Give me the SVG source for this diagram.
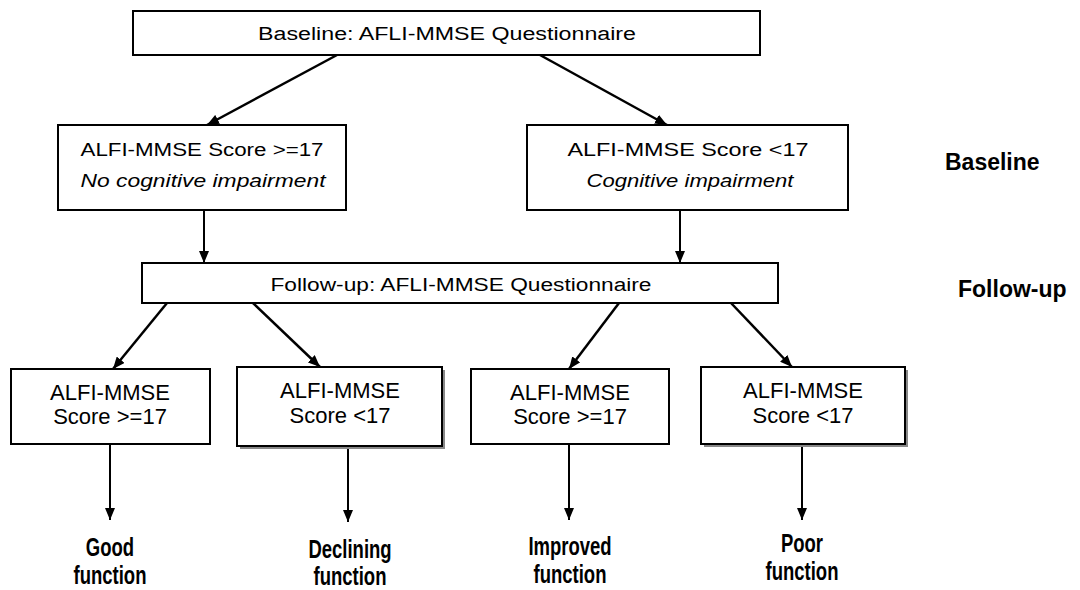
<svg xmlns="http://www.w3.org/2000/svg" width="1080" height="590" viewBox="0 0 1080 590">
<defs>
<style>
.box{fill:#fff;stroke:#000;stroke-width:2}
.shadow{fill:#888;stroke:none}
.t{font-family:"Liberation Sans",Arial,sans-serif;font-size:18px;fill:#000;text-anchor:middle}
.tb{font-family:"Liberation Sans",Arial,sans-serif;font-size:22px;fill:#000;text-anchor:middle}
.it{font-style:italic}
.side{font-family:"Liberation Sans",Arial,sans-serif;font-size:23px;font-weight:bold;fill:#000}
.lab{font-family:"Liberation Sans",Arial,sans-serif;font-size:25px;font-weight:bold;fill:#000;text-anchor:middle}
.c{stroke:#000;stroke-width:2.5;fill:none}
.cv{stroke:#000;stroke-width:2;fill:none}
</style>
<marker id="ah" viewBox="0 0 12 10" refX="12" refY="5" markerWidth="12" markerHeight="10" markerUnits="userSpaceOnUse" orient="auto">
<path d="M0,0 L12,5 L0,10 Z" fill="#000"/>
</marker>
</defs>
<rect width="1080" height="590" fill="#fff"/>

<g id="connectors">
<line class="c" x1="337" y1="55" x2="207" y2="125" marker-end="url(#ah)"/>
<line class="c" x1="540" y1="55" x2="667" y2="125" marker-end="url(#ah)"/>
<line class="cv" x1="204" y1="210" x2="204" y2="263" marker-end="url(#ah)"/>
<line class="cv" x1="680" y1="210" x2="680" y2="263" marker-end="url(#ah)"/>
<line class="c" x1="167" y1="303" x2="113" y2="369" marker-end="url(#ah)"/>
<line class="c" x1="253" y1="303" x2="320" y2="367" marker-end="url(#ah)"/>
<line class="c" x1="619" y1="303" x2="569" y2="369" marker-end="url(#ah)"/>
<line class="c" x1="731" y1="303" x2="792" y2="367" marker-end="url(#ah)"/>
<line class="cv" x1="110" y1="444" x2="110" y2="520" marker-end="url(#ah)"/>
<line class="cv" x1="348" y1="447" x2="348" y2="522" marker-end="url(#ah)"/>
<line class="cv" x1="569" y1="444" x2="569" y2="520" marker-end="url(#ah)"/>
<line class="cv" x1="802" y1="445" x2="802" y2="520" marker-end="url(#ah)"/>
</g>

<g id="baseline-q">
<rect class="box" x="133" y="11" width="627" height="44"/>
<text class="t" x="447" y="40" textLength="378" lengthAdjust="spacingAndGlyphs">Baseline: AFLI-MMSE Questionnaire</text>
</g>

<g id="no-impairment">
<rect class="box" x="58" y="125" width="288" height="85"/>
<text class="t" x="202" y="156" textLength="243" lengthAdjust="spacingAndGlyphs">ALFI-MMSE Score &gt;=17</text>
<text class="t it" x="203" y="187" textLength="245" lengthAdjust="spacingAndGlyphs">No cognitive impairment</text>
</g>

<g id="impairment">
<rect class="box" x="527" y="125" width="321" height="85"/>
<text class="t" x="688" y="156" textLength="241" lengthAdjust="spacingAndGlyphs">ALFI-MMSE Score &lt;17</text>
<text class="t it" x="690" y="187" textLength="207" lengthAdjust="spacingAndGlyphs">Cognitive impairment</text>
</g>

<g id="label-baseline">
<text class="side" x="945" y="170">Baseline</text>
</g>

<g id="followup-q">
<rect class="box" x="142" y="263" width="636" height="40"/>
<text class="t" x="461" y="291" textLength="381" lengthAdjust="spacingAndGlyphs">Follow-up: AFLI-MMSE Questionnaire</text>
</g>

<g id="label-followup">
<text class="side" x="958" y="297">Follow-up</text>
</g>

<g id="b1">
<rect class="box" x="11" y="369" width="199" height="75"/>
<text class="tb" x="110" y="400">ALFI-MMSE</text>
<text class="tb" x="110" y="424">Score &gt;=17</text>
</g>

<g id="b2">
<rect class="shadow" x="240" y="370" width="205" height="79"/>
<rect class="box" x="237" y="367" width="205" height="79"/>
<text class="tb" x="340" y="398">ALFI-MMSE</text>
<text class="tb" x="340" y="423">Score &lt;17</text>
</g>

<g id="b3">
<rect class="box" x="471" y="369" width="198" height="75"/>
<text class="tb" x="570" y="400">ALFI-MMSE</text>
<text class="tb" x="570" y="424">Score &gt;=17</text>
</g>

<g id="b4">
<rect class="shadow" x="704" y="370" width="204" height="77"/>
<rect class="box" x="701" y="367" width="204" height="77"/>
<text class="tb" x="803" y="398">ALFI-MMSE</text>
<text class="tb" x="803" y="423">Score &lt;17</text>
</g>

<g id="out-good">
<text class="lab" transform="translate(110,556) scale(0.74,1)">Good</text>
<text class="lab" transform="translate(110,584) scale(0.74,1)">function</text>
</g>
<g id="out-declining">
<text class="lab" transform="translate(350,558) scale(0.74,1)">Declining</text>
<text class="lab" transform="translate(350,585) scale(0.74,1)">function</text>
</g>
<g id="out-improved">
<text class="lab" transform="translate(570,555) scale(0.74,1)">Improved</text>
<text class="lab" transform="translate(570,583) scale(0.74,1)">function</text>
</g>
<g id="out-poor">
<text class="lab" transform="translate(802,552) scale(0.74,1)">Poor</text>
<text class="lab" transform="translate(802,580) scale(0.74,1)">function</text>
</g>
</svg>
